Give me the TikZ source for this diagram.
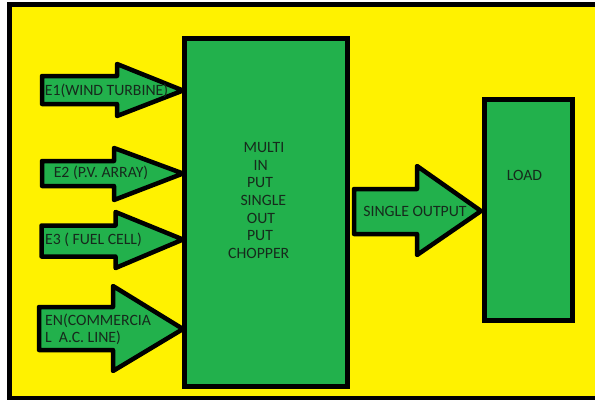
\documentclass[tikz,border=0pt]{standalone}
\usepackage{fontspec}
\setmainfont{Carlito}
\definecolor{pyellow}{RGB}{255,242,0}
\definecolor{pgreen}{RGB}{34,177,76}
\definecolor{ptext}{RGB}{22,42,28}
\tikzset{
  blk/.style={draw=black, fill=pgreen, line width=4.5bp, rectangle, inner sep=0pt},
  barrowshape/.style={draw=black, fill=pgreen, line width=4.5bp, line join=round},
  lbl/.style={text=ptext, inner sep=0pt, anchor=base, font=\fontsize{15.8}{17.6}\selectfont},
}
% #1 left x, #2 shaft top, #3 shaft bottom, #4 head base x, #5 head top, #6 head bottom, #7 tip coordinate
\newcommand\blockarrow[7]{%
  \draw[barrowshape] (#1,#2) -- (#4,#2) -- (#4,#5) -- #7 -- (#4,#6) -- (#4,#3) -- (#1,#3) -- cycle;}
\begin{document}
\begin{tikzpicture}[x=1bp,y=-1bp]
\useasboundingbox (0,0) rectangle (595,400);
\clip (0,0) rectangle (595,400);
\fill[white] (0,0) rectangle (595,400);
\draw[fill=pyellow, line width=4.5bp] (9.5,4.5) rectangle (610,398);

% main boxes
\node[blk, minimum width=163bp, minimum height=348bp] (chop) at (266,212.5) {};
\node[blk, minimum width=88bp, minimum height=221bp] (load) at (528.5,210) {};

% tip coordinates on the box edges
\coordinate (t1) at (183,90.5);
\coordinate (t2) at (183,173.5);
\coordinate (t3) at (183,239.5);
\coordinate (t4) at (183,329);
\coordinate (t5) at (481,211);

% input block arrows
\blockarrow{42}{76}{104}{117}{64}{116}{(t1)}
\blockarrow{42}{161}{186}{114}{148}{200}{(t2)}
\blockarrow{41.5}{225.5}{256.5}{115.5}{212}{268}{(t3)}
\blockarrow{39}{307}{350}{113}{286}{371}{(t4)}
% output block arrow
\blockarrow{354}{189}{234}{417}{166}{255}{(t5)}

% labels
\node[lbl] (l1) at (106.5,95.9) {E1(WIND TURBINE)};
\node[lbl] (l2) at (101,177.6) {E2 (P.V. ARRAY)};
\node[lbl] (l3) at (93.5,244.9) {E3 ( FUEL CELL)};
\node[lbl, anchor=base west] (l4a) at (45,325.9) {EN(COMMERCIA};
\node[lbl, anchor=base west] (l4b) at (45,342.9) {L\ \ A.C. LINE)};
\node[lbl] (l5) at (415,216.6) {SINGLE OUTPUT};
\node[lbl] (lload) at (524.5,180.9) {LOAD};

\node[lbl] (m1) at (264,152.6) {MULTI};
\node[lbl] (m2) at (260.7,170.2) {IN};
\node[lbl] (m3) at (260,187.8) {PUT};
\node[lbl] (m4) at (263.3,205.4) {SINGLE};
\node[lbl] (m5) at (261,223.0) {OUT};
\node[lbl] (m6) at (260,240.6) {PUT};
\node[lbl] (m7) at (258.7,258.2) {CHOPPER};
\end{tikzpicture}
\end{document}
